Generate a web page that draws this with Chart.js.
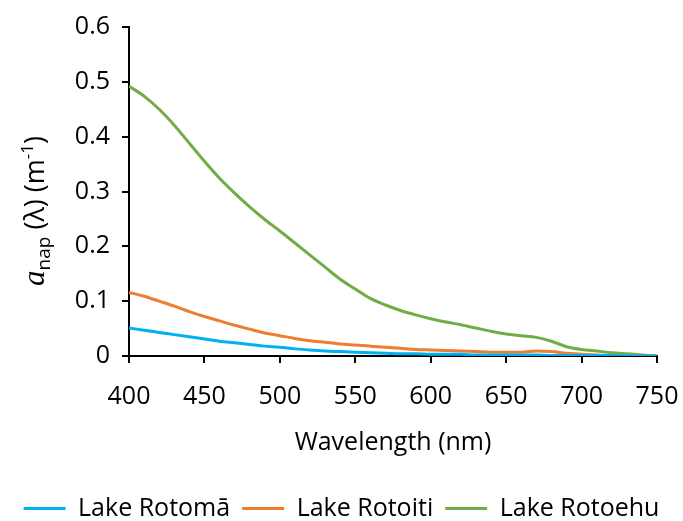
<!DOCTYPE html>
<html>
<head>
<meta charset="utf-8">
<script src="https://cdn.jsdelivr.net/npm/chart.js@4.4.1/dist/chart.umd.min.js"></script>
<style>
  html, body { margin: 0; padding: 0; background: #fff; }
  #wrap { width: 683px; height: 521px; position: relative; }
</style>
</head>
<body>
<div id="wrap"><canvas id="myChart" width="683" height="521"></canvas></div>
<script>
const wavelengths = [400,410,420,430,440,450,460,470,480,490,500,510,520,530,540,550,560,570,580,590,600,610,620,630,640,650,660,670,680,690,700,710,720,730,740,750];
const rotoma  = [0.051,0.047,0.043,0.039,0.035,0.031,0.027,0.024,0.021,0.018,0.016,0.013,0.011,0.009,0.008,0.007,0.006,0.005,0.004,0.004,0.003,0.003,0.003,0.002,0.002,0.002,0.002,0.002,0.001,0.001,0.001,0.001,0.0005,0.0003,0.0001,0];
const rotoiti = [0.116,0.109,0.100,0.091,0.081,0.072,0.064,0.056,0.049,0.042,0.037,0.032,0.028,0.025,0.022,0.020,0.018,0.016,0.014,0.012,0.011,0.010,0.009,0.008,0.007,0.007,0.007,0.009,0.008,0.005,0.003,0.002,0.001,0.001,0.0005,0];
const rotoehu = [0.492,0.474,0.450,0.421,0.388,0.355,0.324,0.297,0.272,0.249,0.228,0.206,0.184,0.162,0.140,0.122,0.105,0.093,0.083,0.075,0.068,0.062,0.057,0.051,0.045,0.040,0.037,0.034,0.027,0.017,0.012,0.009,0.006,0.004,0.002,0];
const seriesNames = ['Lake Rotomā', 'Lake Rotoiti', 'Lake Rotoehu'];
const seriesColors = ['#00B0F0', '#ED7D31', '#70AD47'];
const yTicks = [0, 0.1, 0.2, 0.3, 0.4, 0.5, 0.6];

const FONT = '"Open Sans", sans-serif';

function pts(vals) {
  return wavelengths.map((w, i) => ({ x: w, y: vals[i] }));
}

// y title: italic a, subscript nap, superscript -1
const yTitle = {
  id: 'yTitle',
  afterDraw(chart) {
    const ctx = chart.ctx;
    ctx.save();
    ctx.translate(36, 211);
    ctx.rotate(-Math.PI / 2);
    ctx.fillStyle = '#000';
    ctx.textBaseline = 'alphabetic';
    const parts = [
      { t: 'a', f: 'italic 31px "Liberation Serif", serif', dy: 0 },
      { t: 'nap', f: '19px ' + FONT, dy: 6 },
      { t: ' (λ) (m', f: '27px ' + FONT, dy: 0 },
      { t: '-1', f: '17px ' + FONT, dy: -11 },
      { t: ')', f: '27px ' + FONT, dy: 0 }
    ];
    let total = 0;
    parts.forEach(p => { ctx.font = p.f; total += ctx.measureText(p.t).width; });
    let x = -total / 2;
    parts.forEach(p => {
      ctx.font = p.f;
      ctx.fillText(p.t, x, 8 + p.dy);
      x += ctx.measureText(p.t).width;
    });
    ctx.restore();
  }
};

const ctx = document.getElementById('myChart').getContext('2d');
const myChart = new Chart(ctx, {
  type: 'line',
  data: {
    datasets: [
      { label: seriesNames[0], data: pts(rotoma),  borderColor: seriesColors[0], backgroundColor: seriesColors[0] },
      { label: seriesNames[1], data: pts(rotoiti), borderColor: seriesColors[1], backgroundColor: seriesColors[1] },
      { label: seriesNames[2], data: pts(rotoehu), borderColor: seriesColors[2], backgroundColor: seriesColors[2] }
    ]
  },
  options: {
    responsive: false,
    animation: false,
    layout: { padding: { top: 5, right: 0, left: 0, bottom: -10 } },
    elements: {
      point: { radius: 0 },
      line: { borderWidth: 3, tension: 0.4, cubicInterpolationMode: 'monotone' }
    },
    scales: {
      x: {
        type: 'linear',
        min: 400, max: 750,
        afterFit: s => { s.paddingRight = 26; s.paddingLeft = 0; },
        ticks: { stepSize: 50, color: '#000', font: { family: FONT, size: 25 }, padding: 19 },
        grid: { drawOnChartArea: false, drawTicks: true, tickLength: 7, color: '#000', lineWidth: 2 },
        border: { color: '#000', width: 2 },
        title: { display: true, text: 'Wavelength (nm)', color: '#000', font: { family: FONT, size: 25 }, padding: { top: -3, bottom: 26 } }
      },
      y: {
        min: 0, max: 0.6,
        afterBuildTicks: s => { s.ticks = yTicks.map(v => ({ value: v })); },
        afterFit: s => { s.width = 129; },
        ticks: { color: '#000', font: { family: FONT, size: 25 }, padding: 12, callback: v => String(v) },
        grid: { drawOnChartArea: false, drawTicks: true, tickLength: 7, color: '#000', lineWidth: 2 },
        border: { color: '#000', width: 2 }
      }
    },
    plugins: {
      legend: {
        position: 'bottom',
        labels: {
          boxWidth: 42,
          boxHeight: 3,
          color: '#000',
          font: { family: FONT, size: 25 },
          padding: 12,
          generateLabels: chart => Chart.defaults.plugins.legend.labels.generateLabels(chart).map(l => ({ ...l, lineWidth: 0 }))
        }
      },
      tooltip: { enabled: false }
    }
  },
  plugins: [yTitle]
});
</script>
</body>
</html>
